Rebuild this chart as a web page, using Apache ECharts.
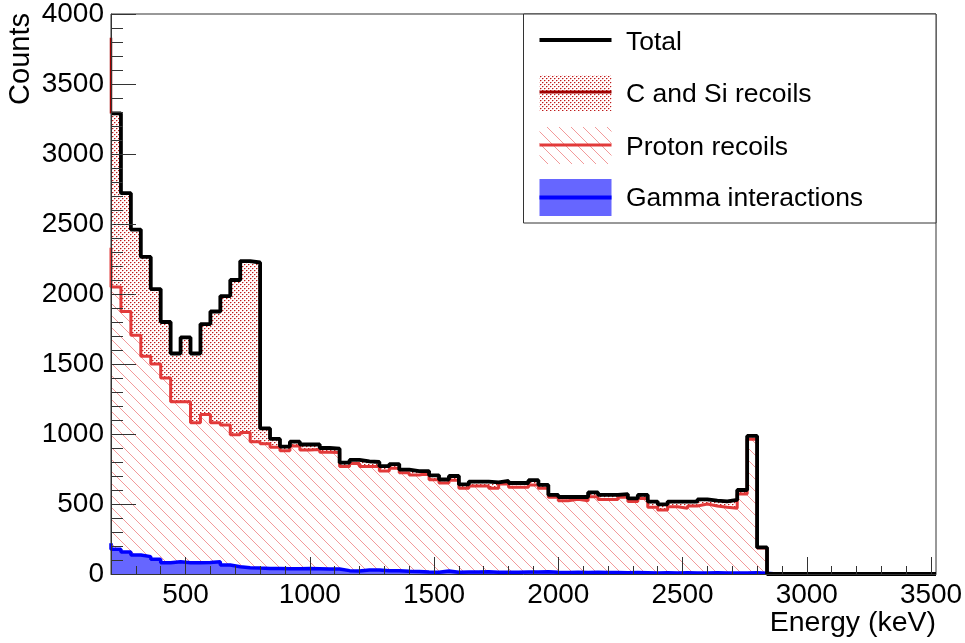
<!DOCTYPE html>
<html><head><meta charset="utf-8">
<script src="https://cdn.jsdelivr.net/npm/echarts@6/dist/echarts.min.js"></script>
<style>html,body{margin:0;padding:0;background:#fff}#c{width:965px;height:643px}</style>
</head><body><div id="c"></div>
<script>
// ---- data (40 keV bins from 200 keV to 3520 keV) ----
const binStart = 200;
const binWidth = 40;
const xMax = 3520;
const totalCounts = [3290, 2720, 2460, 2265, 2035, 1800, 1575, 1690, 1575, 1785,
  1875, 1985, 2100, 2235, 2225, 1040, 965, 910, 945, 925,
  925, 900, 895, 795, 815, 805, 800, 770, 785, 745,
  735, 735, 705, 675, 700, 640, 660, 660, 655, 665,
  650, 650, 670, 636, 565, 550, 550, 550, 583, 565,
  565, 570, 540, 565, 517, 498, 517, 517, 517, 533,
  524, 519, 529, 600, 986, 190, 0, 0, 0, 0,
  0, 0, 0, 0, 0, 0, 0, 0, 0, 0, 0, 0, 0];
const protonCounts = [2050, 1875, 1705, 1555, 1500, 1400, 1230, 1230, 1080, 1140,
  1080, 1065, 995, 1010, 945, 930, 905, 880, 915, 885,
  890, 870, 868, 767, 790, 767, 767, 735, 755, 724,
  707, 719, 674, 650, 669, 612, 629, 629, 612, 643,
  619, 619, 636, 612, 548, 524, 533, 524, 552, 533,
  533, 548, 517, 540, 476, 457, 481, 469, 486, 500,
  486, 476, 469, 571, 962, 185, 0, 0, 0, 0,
  0, 0, 0, 0, 0, 0, 0, 0, 0, 0, 0, 0, 0];
const gammaCounts = [176, 157, 136, 124, 105, 81, 88, 81, 81, 83,
  88, 64, 52, 45, 42, 40, 40, 38, 38, 40,
  38, 36, 36, 24, 22, 28, 29, 24, 24, 19,
  17, 14, 12, 21, 13, 14, 15, 16, 13, 12,
  13, 14, 14, 16, 12, 11, 12, 10, 12, 11,
  10, 9, 10, 9, 8, 9, 8, 9, 8, 8,
  9, 8, 7, 8, 9, 5, 0, 0, 0, 0,
  0, 0, 0, 0, 0, 0, 0, 0, 0, 0, 0, 0, 0];
// content of the bin just below 200 keV (only its right edge is visible)
const csiStackUnderflow = 3830;
const protonUnderflow = 2330;
const gammaUnderflow = 220;
const xTickValues = [500, 1000, 1500, 2000, 2500, 3000, 3500];
const seriesNames = ['Total', 'C and Si recoils', 'Proton recoils', 'Gamma interactions'];
const xTitle = 'Energy (keV)';
const yTitle = 'Counts';

// ---- helpers ----
function steps(values, underflow) {
  const pts = [];
  if (underflow != null) pts.push([binStart, underflow]);
  values.forEach((v, i) => pts.push([binStart + i * binWidth, v]));
  pts.push([binStart + values.length * binWidth, values[values.length - 1]]);
  return pts;
}
function makeHatch() {
  const c = document.createElement('canvas'); c.width = 12; c.height = 12;
  const g = c.getContext('2d'); g.fillStyle = '#fff'; g.fillRect(0, 0, 12, 12);
  g.strokeStyle = '#f08f8f'; g.lineWidth = 0.9;
  for (const o of [-12, 0, 12]) { g.beginPath(); g.moveTo(o, 0); g.lineTo(o + 12, 12); g.stroke(); }
  return c;
}
function makeDots() {
  const c = document.createElement('canvas'); c.width = 4; c.height = 4;
  const g = c.getContext('2d'); g.fillStyle = '#fff'; g.fillRect(0, 0, 4, 4);
  g.fillStyle = '#b81c1c'; g.fillRect(0, 0, 1, 1); g.fillRect(2, 2, 1, 1);
  g.fillStyle = '#eea0a0'; g.fillRect(1, 0, 1, 1); g.fillRect(3, 2, 1, 1);
  g.fillStyle = '#f6d0d0'; g.fillRect(0, 1, 1, 1); g.fillRect(2, 3, 1, 1);
  return c;
}
const hatch = { image: makeHatch(), repeat: 'repeat' };
const dots = { image: makeDots(), repeat: 'repeat' };
const minorX = [];
for (let v = 300; v <= 3500; v += 100) minorX.push(v);

const FONT = '"Liberation Sans", Arial, Helvetica, sans-serif';
const RED = '#e23a3a', DARKRED = '#a00000', BLUE = '#0000ff', BLUEFILL = '#6666ff';
const plain = v => String(v);

const chart = echarts.init(document.getElementById('c'), null, { renderer: 'canvas' });
const common = { type: 'line', step: 'end', symbol: 'none', animation: false, silent: true };
chart.setOption({
  animation: false,
  backgroundColor: '#fff',
  grid: { left: 111, top: 14, right: 29, bottom: 69, show: true, borderColor: '#333', borderWidth: 1,
          containLabel: false, outerBoundsMode: 'none' },
  xAxis: [{
    type: 'value', min: binStart, max: xMax, position: 'bottom', z: 10,
    axisLine: { show: true, onZero: false, lineStyle: { color: '#333', width: 1 } },
    axisTick: { show: true, inside: true, length: 17, customValues: xTickValues, lineStyle: { color: '#333' } },
    axisLabel: { customValues: xTickValues, formatter: plain, fontSize: 28, fontFamily: FONT, color: '#000', margin: 7 },
    splitLine: { show: false }
  }, {
    type: 'value', min: binStart, max: xMax, position: 'bottom', z: 10,
    axisLine: { show: false },
    axisTick: { show: true, inside: true, length: 8, customValues: minorX, lineStyle: { color: '#333' } },
    axisLabel: { show: false }, splitLine: { show: false }
  }],
  yAxis: {
    type: 'value', min: 0, max: 4000, interval: 500, z: 10,
    axisLine: { show: true, lineStyle: { color: '#333', width: 1 } },
    axisTick: { show: true, inside: true, length: 25, lineStyle: { color: '#333' } },
    minorTick: { show: true, splitNumber: 5, length: 12, lineStyle: { color: '#333' } },
    axisLabel: { formatter: plain, fontSize: 28, fontFamily: FONT, color: '#000', margin: 7 },
    splitLine: { show: false }, minorSplitLine: { show: false }
  },
  series: [
    Object.assign({}, common, { name: seriesNames[1], z: 1, data: steps(totalCounts),
      lineStyle: { width: 0 }, areaStyle: { color: dots, opacity: 1 } }),
    Object.assign({}, common, { name: seriesNames[2], z: 2, data: steps(protonCounts, protonUnderflow),
      lineStyle: { color: RED, width: 3 }, areaStyle: { color: hatch, opacity: 1 } }),
    Object.assign({}, common, { name: seriesNames[3], z: 3, data: steps(gammaCounts, gammaUnderflow),
      lineStyle: { color: BLUE, width: 3.5 }, areaStyle: { color: BLUEFILL, opacity: 1 } }),
    Object.assign({}, common, { name: seriesNames[1] + ' edge', z: 4, step: false,
      data: [[binStart, csiStackUnderflow], [binStart, totalCounts[0]]],
      lineStyle: { color: DARKRED, width: 2.5 } }),
    Object.assign({}, common, { name: seriesNames[0], z: 5, data: steps(totalCounts),
      lineStyle: { color: '#000', width: 3.8 } })
  ],
  graphic: [
    { type: 'text', x: 21, y: 13, rotation: Math.PI / 2, z: 100,
      style: { text: yTitle, fontSize: 29, fontFamily: FONT, fill: '#000', textAlign: 'right', textVerticalAlign: 'middle' } },
    { type: 'text', x: 936, y: 623, z: 100,
      style: { text: xTitle, fontSize: 28.5, fontFamily: FONT, fill: '#000', textAlign: 'right', textVerticalAlign: 'middle' } },
    { type: 'group', z: 100, children: [
      { type: 'rect', shape: { x: 523.5, y: 14, width: 412.5, height: 209 }, style: { fill: '#fff', stroke: '#333', lineWidth: 1 } },
      { type: 'line', shape: { x1: 539.5, y1: 40, x2: 611.5, y2: 40 }, style: { stroke: '#000', lineWidth: 4 } },
      { type: 'rect', shape: { x: 539.5, y: 75, width: 72, height: 36 }, style: { fill: dots } },
      { type: 'line', shape: { x1: 539.5, y1: 92, x2: 611.5, y2: 92 }, style: { stroke: DARKRED, lineWidth: 3 } },
      { type: 'rect', shape: { x: 539.5, y: 127, width: 72, height: 37 }, style: { fill: hatch } },
      { type: 'line', shape: { x1: 539.5, y1: 145, x2: 611.5, y2: 145 }, style: { stroke: RED, lineWidth: 3 } },
      { type: 'rect', shape: { x: 539.5, y: 179, width: 72, height: 37 }, style: { fill: BLUEFILL } },
      { type: 'line', shape: { x1: 539.5, y1: 197.5, x2: 611.5, y2: 197.5 }, style: { stroke: BLUE, lineWidth: 4 } },
      { type: 'text', x: 626, y: 42.5, style: { text: seriesNames[0], fontSize: 26.5, fontFamily: FONT, fill: '#000', textVerticalAlign: 'middle' } },
      { type: 'text', x: 626, y: 94.5, style: { text: seriesNames[1], fontSize: 26.5, fontFamily: FONT, fill: '#000', textVerticalAlign: 'middle' } },
      { type: 'text', x: 626, y: 147.5, style: { text: seriesNames[2], fontSize: 26.5, fontFamily: FONT, fill: '#000', textVerticalAlign: 'middle' } },
      { type: 'text', x: 626, y: 198.5, style: { text: seriesNames[3], fontSize: 26.5, fontFamily: FONT, fill: '#000', textVerticalAlign: 'middle' } }
    ] }
  ]
});
</script></body></html>
